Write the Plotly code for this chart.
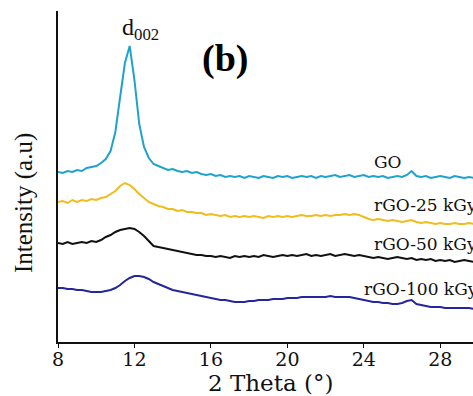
import plotly.graph_objects as go

# 2-theta grid (degrees)
two_theta = [
    8.00, 8.25, 8.50, 8.75, 9.00, 9.25, 9.50, 9.75,
    10.00, 10.25, 10.50, 10.75, 11.00, 11.25, 11.50, 11.75,
    12.00, 12.25, 12.50, 12.75, 13.00, 13.25, 13.50, 13.75,
    14.00, 14.25, 14.50, 14.75, 15.00, 15.25, 15.50, 15.75,
    16.00, 16.25, 16.50, 16.75, 17.00, 17.25, 17.50, 17.75,
    18.00, 18.25, 18.50, 18.75, 19.00, 19.25, 19.50, 19.75,
    20.00, 20.25, 20.50, 20.75, 21.00, 21.25, 21.50, 21.75,
    22.00, 22.25, 22.50, 22.75, 23.00, 23.25, 23.50, 23.75,
    24.00, 24.25, 24.50, 24.75, 25.00, 25.25, 25.50, 25.75,
    26.00, 26.25, 26.50, 26.75, 27.00, 27.25, 27.50, 27.75,
    28.00, 28.25, 28.50, 28.75, 29.00, 29.25, 29.50, 29.75,
    30.00,
]

# Intensities (a.u., stacked/offset as in the figure)
go_int = [
    170, 169, 171, 170, 172, 171, 174, 175,
    176, 179, 183, 191, 210, 245, 279, 296,
    262, 218, 195, 184, 178, 176, 174, 172,
    173, 171, 170, 171, 169, 170, 168, 167,
    168, 166, 167, 165, 166, 165, 166, 164,
    166, 165, 164, 166, 165, 164, 166, 165,
    166, 164, 165, 166, 165, 166, 164, 166,
    165, 166, 167, 165, 166, 167, 165, 166,
    167, 165, 166, 165, 166, 164, 165, 166,
    165, 167, 171, 166, 165, 166, 164, 165,
    166, 165, 164, 166, 165, 164, 165, 164,
    165,
]

rgo25_int = [
    140, 141, 139, 142, 140, 142, 141, 143,
    142, 144, 145, 148, 151, 156, 159, 157,
    153, 148, 144, 140, 138, 136, 135, 133,
    133, 131, 132, 130, 130, 129, 129, 127,
    128, 127, 126, 127, 125, 126, 125, 126,
    125, 126, 125, 124, 126, 125, 126, 125,
    126, 125, 126, 127, 126, 126, 127, 126,
    127, 126, 127, 127, 128, 127, 128, 127,
    125, 123, 122, 123, 122, 121, 122, 121,
    120, 121, 122, 120, 119, 120, 119, 118,
    119, 118, 118, 119, 118, 118, 119, 118,
    118,
]

rgo50_int = [
    99, 98, 100, 98, 99, 100, 99, 101,
    100, 102, 105, 107, 110, 112, 113, 114,
    113, 110, 106, 101, 96, 95, 94, 93,
    92, 91, 90, 89, 88, 87, 87, 86,
    86, 85, 86, 85, 84, 86, 85, 86,
    85, 86, 85, 87, 86, 85, 86, 87,
    86, 87, 86, 87, 88, 86, 87, 86,
    87, 88, 86, 87, 88, 87, 86, 87,
    86, 85, 84, 85, 84, 83, 84, 85,
    84, 83, 84, 82, 83, 82, 83, 81,
    82, 81, 82, 80, 81, 82, 81, 80,
    81,
]

rgo100_int = [
    54, 54, 53, 53, 52, 52, 51, 50,
    50, 50, 51, 52, 54, 57, 61, 64,
    66, 66, 65, 63, 60, 58, 56, 54,
    52, 51, 50, 49, 48, 47, 46, 45,
    44, 43, 42, 42, 41, 40, 40, 40,
    41, 41, 42, 42, 42, 43, 43, 43,
    44, 44, 44, 45, 45, 45, 45, 45,
    45, 46, 45, 45, 45, 45, 44, 43,
    42, 41, 40, 40, 39, 39, 38, 38,
    39, 41, 42, 38, 37, 36, 35, 35,
    35, 34, 34, 34, 34, 34, 34, 33,
    34,
]

series_names = ["GO", "rGO-25 kGy", "rGO-50 kGy", "rGO-100 kGy"]
series_vals = [go_int, rgo25_int, rgo50_int, rgo100_int]
series_colors = ["#1fa3cc", "#efbd1e", "#111111", "#25259c"]
label_x = [24.43, 24.43, 24.43, 23.9]
label_y = [180, 137, 98, 53]

x_ticks = [8, 12, 16, 20, 24, 28]

W, H = 473, 396
L, R, T, B = 58, 0, 11, 54

fig = go.Figure()
for name, vals, col in zip(series_names, series_vals, series_colors):
    fig.add_trace(go.Scatter(x=two_theta, y=vals, mode="lines", name=name,
                             line=dict(color=col, width=2), showlegend=False))

for name, lx, ly in zip(series_names, label_x, label_y):
    fig.add_annotation(x=lx, y=ly, xref="x", yref="y", text=name, showarrow=False,
                       xanchor="left", yanchor="middle",
                       font=dict(family="DejaVu Serif", size=17, color="#111"))

pw = W - L - R
ph = H - T - B
def px(xp):
    return (xp - L) / pw
def py(yp):
    return (H - B - yp) / ph

fig.add_annotation(x=px(140), y=py(29), xref="paper", yref="paper",
                   text="d<sub>002</sub>", showarrow=False, xanchor="center", yanchor="middle",
                   font=dict(family="Liberation Serif", size=24, color="#111"))
fig.add_annotation(x=px(225), y=py(58), xref="paper", yref="paper",
                   text="<b>(b)</b>", showarrow=False, xanchor="center", yanchor="middle",
                   font=dict(family="Liberation Serif", size=38, color="#000"))
fig.add_annotation(x=px(24), y=py(203), xref="paper", yref="paper",
                   text="Intensity (a.u)", showarrow=False, textangle=-90,
                   xanchor="center", yanchor="middle",
                   font=dict(family="Liberation Serif", size=25, color="#111"))
fig.add_annotation(x=px(270), y=py(383), xref="paper", yref="paper",
                   text="2 Theta (°)", showarrow=False, xanchor="center", yanchor="middle",
                   font=dict(family="DejaVu Serif", size=23, color="#111"))

fig.update_layout(
    width=W, height=H,
    margin=dict(l=L, r=R, t=T, b=B, pad=0),
    paper_bgcolor="white", plot_bgcolor="white",
    xaxis=dict(range=[8, 8 + (W - 57.7) / 19.13], tickvals=x_ticks,
               ticktext=[str(t) for t in x_ticks],
               showline=True, linecolor="#111", linewidth=1.5,
               ticks="outside", ticklen=4, tickcolor="#111", tickwidth=1,
               ticklabelstandoff=-5,
               showgrid=False, zeroline=False,
               tickfont=dict(family="DejaVu Serif", size=19, color="#111")),
    yaxis=dict(range=[0, 331], showline=True, linecolor="#111", linewidth=2,
               showticklabels=False, ticks="", showgrid=False, zeroline=False),
)

fig.write_html("out.html", config={"displayModeBar": False},
               post_script="document.body.style.margin='0';document.body.style.overflow='hidden';")
